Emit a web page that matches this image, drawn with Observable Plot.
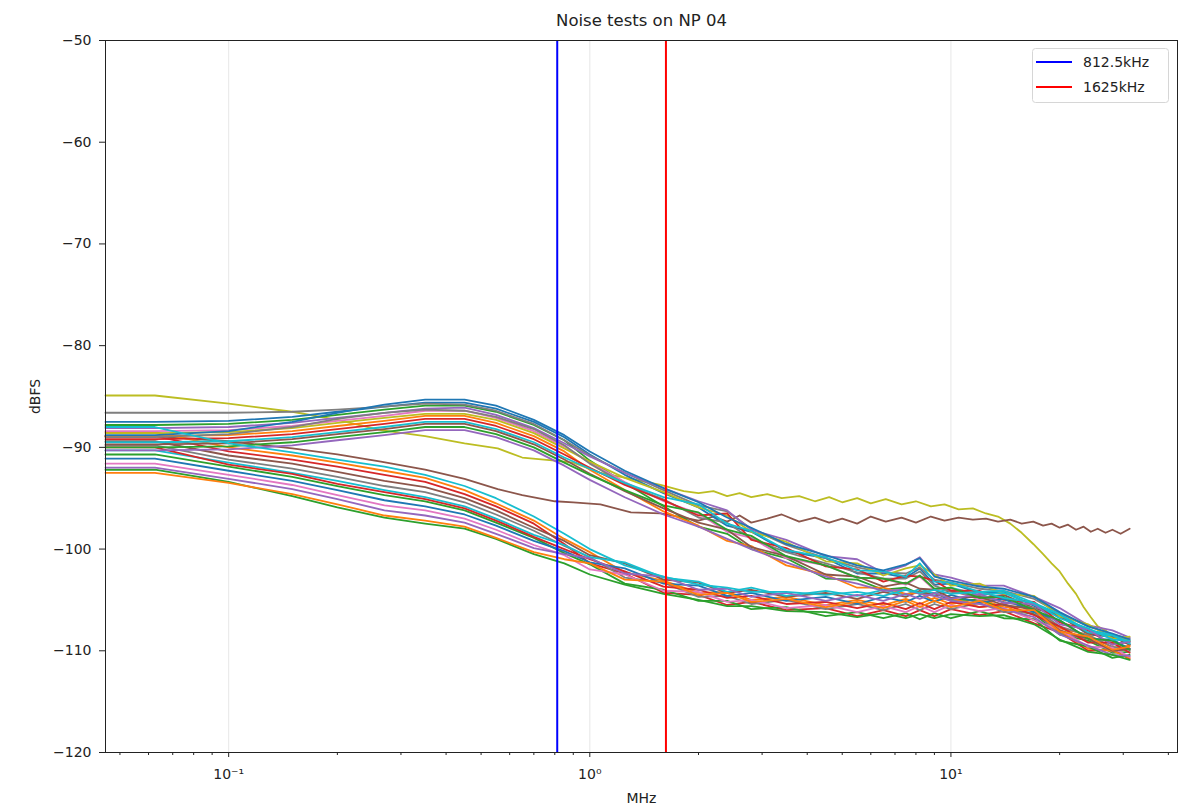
<!DOCTYPE html>
<html><head><meta charset="utf-8">
<script src="https://cdn.jsdelivr.net/npm/d3@7"></script>
<script src="https://cdn.jsdelivr.net/npm/@observablehq/plot@0.6"></script>
<style>
body{margin:0;background:#fff;font-family:"DejaVu Sans",sans-serif;}
#wrap{position:relative;width:1187px;height:810px;}
#legend{position:absolute;left:1032px;top:48px;}
</style></head><body><div id="wrap"></div>
<script>
// frequency grid (MHz); first point is the DC bin drawn at the left edge
const F = [0.0456, 0.0625, 0.1, 0.15, 0.2, 0.27, 0.35, 0.45, 0.55, 0.7, 0.85, 1.0, 1.25, 1.6, 2.0, 2.4, 2.8, 3.5, 4.5, 5.5, 6.5, 7.5, 8.2, 9, 10, 12, 14, 17, 20, 24, 28, 31.25];

// upper bundle
const U1 = [-87.5,-87.5,-87.4,-87.0,-86.5,-86.0,-85.6,-85.6,-86.2,-87.5,-89.0,-90.7,-92.7,-94.5,-95.9,-97.7,-98.3,-100.2,-100.9,-102.4,-102.4,-102.8,-101.9,-103.5,-103.4,-104.3,-104.2,-105.6,-106.5,-108.4,-108.6,-109.4];
const U2 = [-87.8,-87.8,-87.7,-87.3,-86.8,-86.3,-85.9,-85.9,-86.5,-87.8,-89.3,-91.3,-93.5,-95.8,-97.8,-98.5,-100.0,-100.9,-102.9,-103.0,-104.0,-103.8,-104.4,-104.3,-105.0,-105.0,-105.9,-106.4,-108.4,-109.0,-110.2,-110.1];
const U3 = [-88.1,-88.1,-88.0,-87.6,-87.1,-86.6,-86.2,-86.1,-86.8,-88.1,-89.6,-90.9,-92.5,-94.0,-95.3,-96.2,-98.1,-99.1,-100.7,-101.0,-102.3,-101.6,-100.8,-102.5,-102.8,-103.6,-103.6,-104.7,-105.8,-107.5,-108.0,-108.7];
const U4 = [-88.4,-88.4,-88.3,-87.9,-87.4,-86.9,-86.4,-86.4,-87.1,-88.4,-89.9,-91.5,-93.4,-95.3,-96.5,-98.3,-98.9,-100.9,-101.6,-102.8,-102.9,-103.5,-102.7,-104.0,-103.9,-105.0,-104.8,-106.2,-107.1,-108.8,-109.1,-110.0];
const U5 = [-88.6,-88.6,-88.5,-88.1,-87.6,-87.1,-86.7,-86.7,-87.3,-88.6,-90.1,-91.4,-93.0,-94.4,-95.9,-96.7,-98.3,-99.3,-101.2,-101.4,-102.6,-101.9,-101.6,-102.5,-103.6,-103.4,-104.4,-104.6,-106.6,-107.4,-108.8,-108.6];
const U6 = [-88.9,-88.9,-88.8,-88.4,-87.9,-87.4,-86.9,-86.9,-87.6,-88.9,-90.4,-92.2,-94.2,-96.3,-97.7,-99.2,-99.7,-101.6,-102.5,-103.8,-103.8,-104.4,-104.3,-105.1,-104.8,-105.7,-105.5,-107.0,-108.0,-109.8,-110.0,-110.7];
const U7 = [-89.2,-89.2,-89.1,-88.7,-88.2,-87.7,-87.2,-87.2,-87.9,-89.2,-90.7,-92.0,-93.7,-95.2,-96.7,-96.5,-99.1,-99.9,-101.7,-102.0,-103.2,-102.6,-102.7,-103.1,-104.1,-104.1,-105.0,-105.2,-107.2,-108.0,-109.4,-109.1];
const U8 = [-89.5,-89.5,-89.4,-89.0,-88.5,-88.0,-87.5,-87.5,-88.2,-89.5,-91.0,-92.1,-93.5,-94.9,-95.6,-97.5,-98.2,-100.1,-100.8,-102.1,-102.2,-102.7,-101.4,-103.2,-103.3,-104.2,-104.1,-105.3,-106.4,-108.2,-108.5,-109.3];
const U9 = [-89.7,-89.7,-89.6,-89.2,-88.7,-88.2,-87.7,-87.7,-88.4,-89.7,-91.2,-92.6,-94.3,-96.0,-97.4,-98.1,-99.8,-100.7,-102.5,-102.7,-103.7,-103.3,-103.9,-104.0,-104.8,-104.7,-105.5,-105.9,-108.0,-108.8,-110.0,-109.8];
const U10 = [-90.0,-90.0,-89.9,-89.5,-89.0,-88.5,-88.0,-88.0,-88.7,-90.0,-91.5,-92.7,-94.2,-95.7,-96.4,-98.1,-98.7,-100.7,-101.6,-102.8,-102.9,-103.4,-102.6,-103.9,-103.8,-104.8,-104.7,-106.0,-107.0,-108.8,-109.0,-109.9];
const U11 = [-88.8,-88.8,-88.4,-87.5,-86.6,-85.8,-85.3,-85.3,-85.9,-87.3,-88.8,-90.4,-92.3,-94.0,-95.4,-96.9,-97.9,-99.5,-100.6,-101.6,-102.1,-101.5,-100.9,-102.7,-103.1,-103.7,-103.9,-104.7,-106.2,-107.6,-108.3,-108.9];
const U12 = [-90.3,-90.3,-90.2,-89.8,-89.3,-88.8,-88.3,-88.3,-89.0,-90.3,-91.8,-93.2,-94.9,-96.6,-97.8,-99.0,-100.0,-101.3,-102.7,-103.4,-104.1,-104.0,-104.4,-104.6,-105.1,-105.4,-105.9,-106.7,-108.4,-109.5,-110.4,-110.5];
const U13 = [-89.0,-89.0,-88.7,-88.0,-87.2,-86.6,-86.3,-86.4,-87.0,-88.2,-89.8,-91.6,-93.6,-95.1,-96.9,-97.4,-99.0,-100.3,-101.4,-102.3,-102.9,-102.9,-102.2,-103.6,-104.2,-104.6,-105.2,-105.8,-107.6,-108.5,-109.6,-109.9];
const G1 = [-86.6,-86.6,-86.6,-86.5,-86.3,-86.0,-85.7,-85.8,-86.4,-87.7,-89.3,-90.8,-92.5,-94.2,-95.7,-96.3,-98.0,-99.6,-100.9,-101.8,-102.3,-102.4,-101.8,-103.0,-103.3,-103.9,-104.1,-104.9,-106.3,-107.6,-108.4,-108.8];

// lower bundle
const L1 = [-88.5,-88.5,-90.0,-90.8,-91.5,-92.3,-93.0,-94.2,-95.5,-97.2,-99.0,-100.3,-102.3,-103.1,-104.3,-104.2,-105.0,-104.7,-105.5,-105.0,-105.5,-104.9,-105.4,-104.8,-105.4,-104.9,-105.7,-105.8,-107.8,-108.4,-109.7,-109.5];
const L2 = [-88.9,-88.9,-90.4,-91.2,-91.9,-92.7,-93.4,-94.6,-95.8,-97.5,-99.5,-101.4,-102.4,-104.3,-104.5,-105.5,-105.2,-106.0,-105.8,-106.6,-106.0,-106.6,-106.0,-106.6,-105.9,-106.5,-106.1,-107.3,-108.2,-110.0,-109.9,-110.8];
const L3 = [-89.4,-89.4,-90.8,-91.6,-92.4,-93.3,-93.9,-95.0,-96.2,-97.9,-99.2,-100.6,-101.4,-103.0,-103.3,-104.3,-104.0,-104.7,-104.3,-104.9,-104.2,-104.7,-104.1,-104.6,-104.1,-104.8,-104.5,-105.8,-106.6,-108.3,-108.6,-109.4];
const L4 = [-89.8,-89.8,-91.2,-92.1,-92.9,-93.8,-94.4,-95.4,-96.6,-98.2,-99.7,-100.8,-102.8,-103.3,-104.7,-104.6,-105.4,-105.0,-105.9,-105.4,-106.0,-105.4,-106.0,-105.4,-105.9,-105.3,-106.2,-106.2,-108.3,-108.8,-110.1,-109.8];
const L5 = [-90.3,-90.3,-91.5,-92.5,-93.3,-94.2,-94.9,-95.8,-97.0,-98.6,-99.6,-100.8,-101.3,-102.8,-103.2,-104.2,-103.8,-104.6,-104.1,-104.6,-104.0,-104.5,-103.9,-104.4,-103.8,-104.5,-104.3,-105.5,-106.4,-108.0,-108.4,-109.2];
const L6 = [-90.7,-90.7,-91.9,-92.9,-93.8,-94.7,-95.3,-96.2,-97.4,-98.9,-100.4,-101.5,-103.4,-104.0,-105.1,-105.1,-105.9,-105.7,-106.6,-106.2,-106.8,-106.3,-106.9,-106.3,-106.8,-106.1,-106.8,-106.9,-109.0,-109.6,-110.7,-110.4];
const L7 = [-91.1,-91.1,-92.3,-93.3,-94.2,-95.2,-95.8,-96.6,-97.7,-99.2,-100.2,-101.3,-101.9,-103.4,-103.6,-104.6,-104.3,-105.1,-104.7,-105.4,-104.7,-105.2,-104.6,-105.2,-104.5,-105.3,-104.9,-106.2,-107.0,-108.8,-108.9,-109.8];
const L8 = [-91.6,-91.6,-92.7,-93.7,-94.7,-95.7,-96.2,-97.0,-98.1,-99.6,-100.6,-102.0,-102.5,-104.1,-104.2,-105.2,-105.0,-105.8,-105.5,-106.2,-105.6,-106.2,-105.6,-106.2,-105.5,-106.1,-105.8,-107.0,-107.9,-109.6,-109.7,-110.6];
const L9 = [-92.0,-92.0,-93.1,-94.1,-95.1,-96.2,-96.7,-97.4,-98.5,-99.9,-100.5,-100.9,-102.4,-102.7,-104.0,-103.9,-104.7,-104.3,-105.1,-104.5,-105.1,-104.4,-104.9,-104.3,-104.9,-104.4,-105.3,-105.4,-107.4,-107.9,-109.4,-109.1];
const L10 = [-92.5,-92.5,-93.5,-94.6,-95.6,-96.7,-97.2,-97.8,-98.9,-100.3,-101.0,-101.4,-103.0,-103.2,-104.5,-104.3,-105.2,-104.9,-105.7,-105.2,-105.8,-105.1,-105.7,-105.1,-105.7,-105.1,-106.0,-106.0,-108.1,-108.6,-109.9,-109.6];
const L11 = [-88.0,-88.0,-89.6,-90.5,-91.2,-91.9,-92.7,-93.8,-95.0,-96.8,-98.5,-100.0,-101.6,-102.7,-103.5,-103.8,-104.2,-104.2,-104.5,-104.2,-104.6,-104.0,-104.3,-104.0,-104.4,-104.2,-104.8,-105.3,-106.8,-107.8,-108.9,-109.0];
const L12 = [-92.2,-92.2,-93.4,-94.8,-95.9,-96.9,-97.5,-98.0,-99.0,-100.5,-101.4,-102.5,-103.5,-104.4,-105.0,-105.6,-105.6,-106.1,-106.2,-106.7,-106.3,-106.8,-106.4,-106.8,-106.4,-106.6,-106.5,-107.4,-108.9,-110.1,-110.4,-110.9];
const L13 = [-90.0,-90.0,-91.7,-92.6,-93.6,-94.4,-95.1,-96.0,-97.2,-98.8,-100.0,-101.0,-102.2,-103.7,-104.0,-104.8,-104.6,-105.4,-105.2,-105.8,-105.3,-105.9,-105.3,-105.9,-105.2,-105.7,-105.4,-106.5,-107.6,-109.2,-109.2,-110.2];

// two outlier channels on a finer grid
const FO = [0.0456,0.0625,0.1,0.15,0.2,0.264,0.35,0.45,0.556,0.65,0.8,0.9,1.07,1.3,1.57,1.82,2.0,2.2,2.4,2.6,2.8,3.1,3.4,3.8,4.2,4.6,5.0,5.5,6.0,6.6,7.3,8.0,8.8,9.6,10.5,11.5,12.5,13.5,14.6,15.7,16.9,18.0,19.0,20.0,21.1,22.2,23.3,24.4,25.5,26.8,28.0,29.5,31.25];
const Y1 = [-84.9,-84.9,-85.7,-86.5,-87.3,-88.3,-88.9,-89.6,-90.1,-91.0,-91.3,-91.5,-92.5,-93.1,-93.7,-94.3,-94.5,-94.3,-94.8,-94.5,-94.9,-94.6,-95.0,-94.8,-95.3,-94.9,-95.4,-95.0,-95.5,-95.1,-95.6,-95.3,-95.8,-95.6,-96.1,-96.0,-96.5,-96.8,-97.5,-98.4,-99.5,-100.5,-101.4,-102.2,-103.4,-104.4,-105.7,-106.7,-107.6,-108.0,-108.6,-108.7,-109.0];
const B1 = [-88.9,-88.9,-89.4,-90.1,-90.7,-91.4,-92.2,-93.1,-94.1,-94.7,-95.3,-95.4,-95.6,-96.4,-96.5,-96.9,-97.2,-96.8,-97.3,-96.7,-97.4,-97.0,-96.6,-97.3,-96.9,-97.4,-97.0,-97.5,-96.8,-97.3,-96.9,-97.4,-96.8,-97.2,-96.9,-97.1,-97.0,-97.3,-97.1,-97.5,-97.3,-97.7,-97.5,-97.9,-97.6,-98.1,-97.8,-98.3,-98.0,-98.4,-98.1,-98.5,-98.0];

const yTicks = [-120,-110,-100,-90,-80,-70,-60,-50];
const majorX = [0.1, 1, 10];
const xTickLabels = ["10\u207B\u00B9", "10\u2070", "10\u00B9"];
const minorX = [0.05,0.06,0.07,0.08,0.09,0.2,0.3,0.4,0.5,0.6,0.7,0.8,0.9,2,3,4,5,6,7,8,9,20,30,40];
const vLines = [0.8125, 1.625];
const vColors = ["#0000ff", "#ff0000"];
const legendLabels = ["812.5kHz", "1625kHz"];

const series = [
  {id:"Y1", f:FO, v:Y1, c:"#bcbd22"},
  {id:"B1", f:FO, v:B1, c:"#8c564b"},
  {id:"U1", f:F, v:U1, c:"#1f77b4"},
  {id:"L1", f:F, v:L1, c:"#ff7f0e"},
  {id:"U2", f:F, v:U2, c:"#2ca02c"},
  {id:"L2", f:F, v:L2, c:"#d62728"},
  {id:"G1", f:F, v:G1, c:"#7f7f7f"},
  {id:"U3", f:F, v:U3, c:"#9467bd"},
  {id:"L3", f:F, v:L3, c:"#8c564b"},
  {id:"U4", f:F, v:U4, c:"#e377c2"},
  {id:"L4", f:F, v:L4, c:"#7f7f7f"},
  {id:"U5", f:F, v:U5, c:"#bcbd22"},
  {id:"L5", f:F, v:L5, c:"#17becf"},
  {id:"U6", f:F, v:U6, c:"#ff7f0e"},
  {id:"L6", f:F, v:L6, c:"#2ca02c"},
  {id:"U13", f:F, v:U13, c:"#7f7f7f"},
  {id:"L13", f:F, v:L13, c:"#d62728"},
  {id:"U7", f:F, v:U7, c:"#d62728"},
  {id:"L7", f:F, v:L7, c:"#1f77b4"},
  {id:"U8", f:F, v:U8, c:"#17becf"},
  {id:"L8", f:F, v:L8, c:"#e377c2"},
  {id:"U12", f:F, v:U12, c:"#9467bd"},
  {id:"L12", f:F, v:L12, c:"#2ca02c"},
  {id:"U9", f:F, v:U9, c:"#8c564b"},
  {id:"L9", f:F, v:L9, c:"#9467bd"},
  {id:"U10", f:F, v:U10, c:"#2ca02c"},
  {id:"L10", f:F, v:L10, c:"#ff7f0e"},
  {id:"U11", f:F, v:U11, c:"#1f77b4"},
  {id:"L11", f:F, v:L11, c:"#17becf"}
];
const rows = series.flatMap(s => s.v.map((v, i) => ({id: s.id, f: s.f[i], v, c: s.c})));

const chart = Plot.plot({
  width: 1187, height: 810,
  marginLeft: 105, marginRight: 10, marginTop: 40, marginBottom: 58,
  style: {fontFamily: "DejaVu Sans", fontSize: "14px", color: "#222", background: "#fff", overflow: "visible"},
  x: {type: "log", domain: [0.0456, 42.4], label: null},
  y: {domain: [-120, -50], label: null},
  color: {type: "identity"},
  marks: [
    Plot.gridX({ticks: majorX, stroke: "#b0b0b0", strokeOpacity: 0.3, strokeWidth: 1}),
    Plot.line(rows, {x: "f", y: "v", z: "id", stroke: "c", strokeWidth: 1.8}),
    Plot.ruleX(vLines, {x: d => d, stroke: (d, i) => vColors[i], strokeWidth: 2}),
    Plot.frame({stroke: "#222", strokeWidth: 1}),
    Plot.axisY({ticks: yTicks, tickSize: 6, tickPadding: 8, fontSize: 14, tickFormat: d => "\u2212" + Math.abs(d), label: null}),
    Plot.axisX({ticks: majorX, tickSize: 5, tickPadding: 12, fontSize: 14, tickFormat: d => xTickLabels[majorX.indexOf(d)], label: null}),
    Plot.axisX({ticks: minorX, tickSize: 3, tickFormat: () => "", label: null}),
    Plot.text(["Noise tests on NP 04"], {text: d => d, frameAnchor: "top", dy: -20, lineAnchor: "middle", textAnchor: "middle", fontSize: 16.5}),
    Plot.text(["MHz"], {text: d => d, frameAnchor: "bottom", dy: 46, lineAnchor: "middle", textAnchor: "middle", fontSize: 14}),
    Plot.text(["dBFS"], {text: d => d, frameAnchor: "left", dx: -70, rotate: -90, lineAnchor: "middle", textAnchor: "middle", fontSize: 14})
  ]
});
const wrap = document.getElementById("wrap");
wrap.append(chart);

// legend box (inside the axes, upper right)
const lg = d3.select(wrap).append("svg").attr("id", "legend").attr("width", 138).attr("height", 56)
  .style("font-family", "DejaVu Sans").style("font-size", "14px");
lg.append("rect").attr("x", 0.5).attr("y", 0.5).attr("width", 136).attr("height", 54).attr("rx", 3)
  .attr("fill", "rgba(255,255,255,0.8)").attr("stroke", "#d6d6d6");
legendLabels.forEach((t, i) => {
  const y = 14 + i * 25;
  lg.append("line").attr("x1", 4).attr("x2", 40).attr("y1", y).attr("y2", y).attr("stroke", vColors[i]).attr("stroke-width", 2);
  lg.append("text").attr("x", 51).attr("y", y).attr("dy", "0.35em").attr("fill", "#222").text(t);
});
</script></body></html>
